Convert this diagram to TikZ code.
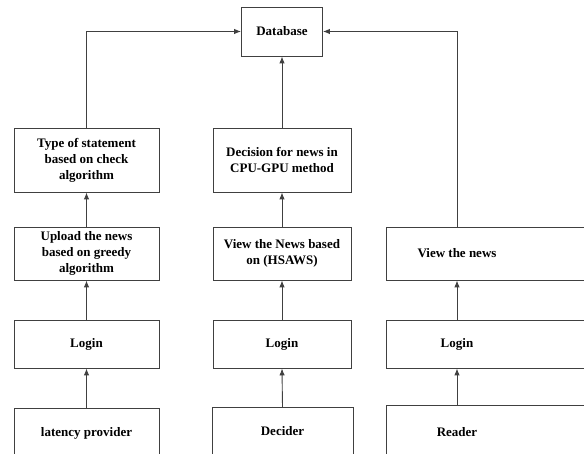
\documentclass[tikz,border=0pt]{standalone}
\usepackage{fontspec}
\setmainfont{Liberation Serif}
\usetikzlibrary{arrows.meta}
% text set 43pt left of the box centre (right column boxes run off the page)
\newcommand\offtext[1]{\kern-43pt\hbox to 0pt{\hss#1\hss}\kern43pt}

\begin{document}
\begin{tikzpicture}[x=1pt,y=1pt,>={Latex[length=7pt,width=5.5pt]},
  box/.style={font=\fontsize{13}{16}\selectfont\bfseries,align=center,
    draw=black!75,line width=0.9pt,inner sep=0pt},
  foot/.style={box,anchor=north,text height=9pt,text depth=60pt,inner ysep=19pt},
  link/.style={draw=black!75,line width=0.9pt,->}]
  \useasboundingbox (0,0) rectangle (584,454);
  \clip (0,0) rectangle (584,454);
  \coordinate (c3) at (457,0);
  \node[box,minimum width=81,minimum height=49] (db) at (282,422.5) {Database};
  % left column
  \node[box,minimum width=145,minimum height=64] (ty1) at (86.5,294) {Type of statement\\based on check\\algorithm};
  \node[box,minimum width=145,minimum height=53] (up1) at (86.5,200.5) {Upload the news\\based on greedy\\algorithm};
  \node[box,minimum width=145,minimum height=48] (lg1) at (86.5,110) {Login};
  \node[foot,minimum width=145] (lp1) at (86.5,46) {latency provider};
  % middle column
  \node[box,minimum width=138,minimum height=64] (dc2) at (282,294) {Decision for news in\\CPU-GPU method};
  \node[box,minimum width=138,minimum height=53] (vw2) at (282,200.5) {View the News based\\on (HSAWS)};
  \node[box,minimum width=138,minimum height=48] (lg2) at (282,110) {Login};
  \node[foot,minimum width=141] (dd2) at (282.5,47) {Decider};
  % right column
  \node[box,minimum width=228,minimum height=53] (vw3) at (500,200.5) {\offtext{View the news}};
  \node[box,minimum width=228,minimum height=48] (lg3) at (500,110) {\offtext{Login}};
  \node[foot,minimum width=228,inner ysep=22pt] (rd3) at (500,49) {\offtext{Reader}};

  \foreach \a/\b in {lp1/lg1,lg1/up1,up1/ty1,dd2/lg2,lg2/vw2,vw2/dc2,dc2/db}
    \draw[link] (\a.north) -- (\b.south);
  \draw[link] (rd3.north -| c3) -- (lg3.south -| c3);
  \draw[link] (lg3.north -| c3) -- (vw3.south -| c3);
  \draw[link] (ty1.north) |- (db.west);
  \draw[link] (vw3.north -| c3) |- (db.east);
\end{tikzpicture}
\end{document}
